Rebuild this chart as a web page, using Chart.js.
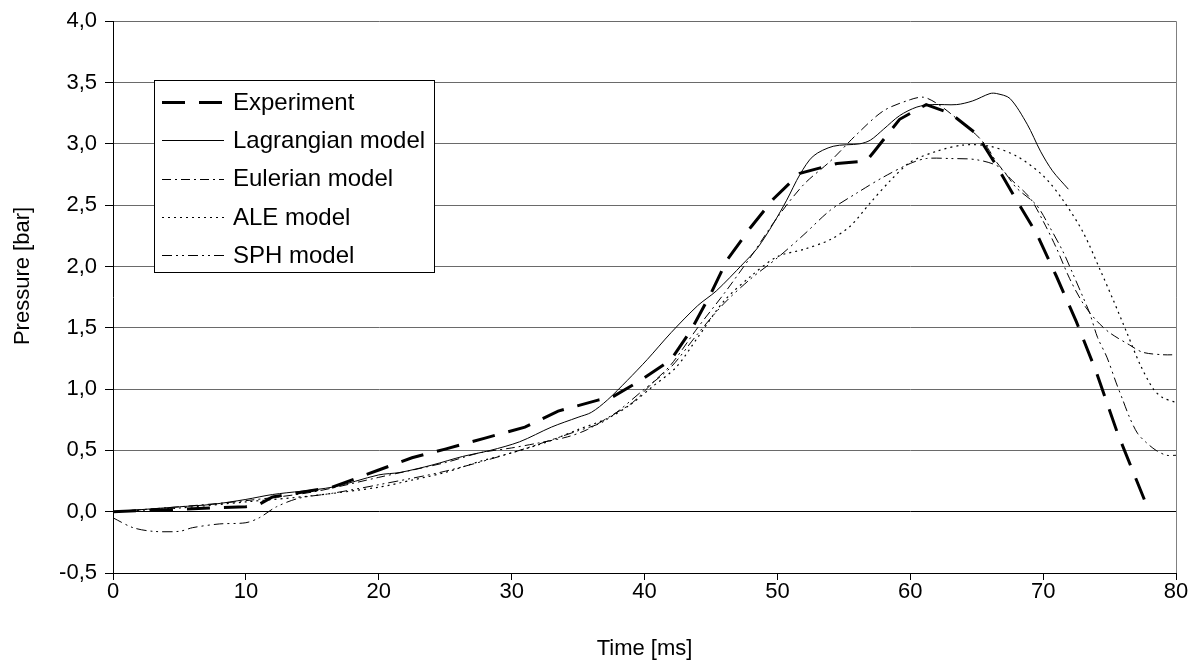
<!DOCTYPE html>
<html>
<head>
<meta charset="utf-8">
<script src="https://cdn.jsdelivr.net/npm/chart.js@4.4.0/dist/chart.umd.min.js"></script>
<style>
html,body{margin:0;padding:0;background:#fff;}
#wrap{width:1192px;height:662px;position:relative;}
</style>
</head>
<body>
<div id="wrap"><canvas id="c" width="1192" height="662"></canvas></div>
<script>
// Series names
const seriesNames = ['Experiment','Lagrangian model','Eulerian model','ALE model','SPH model'];

// Experiment
const expT = [0,5,10,11,12,16.5,20,22.5,25,28,31,33.5,36.5,37.5,39.7,42,43.5,45,46.2,48,49.7,51.7,54.5,56.7,57.3,59.2,61.2,63,65,66.5,68,69.5,71,72.5,74,75.6,77.8];
const expP = [0,0.02,0.04,0.06,0.12,0.2,0.34,0.44,0.51,0.6,0.69,0.82,0.91,0.93,1.07,1.24,1.48,1.78,2.05,2.32,2.55,2.76,2.84,2.86,2.94,3.2,3.32,3.25,3.08,2.82,2.54,2.27,1.92,1.55,1.14,0.64,0.05];

// Lagrangian model
const lagT = [0,5,7.5,10,12,16.5,20,21.6,24,26.3,28.4,30.6,33,35,36,37.2,38.7,40.2,42,44,45.4,47.4,48.5,49.7,50.7,51.7,52.7,54.2,56.2,57,58,59.2,60.5,61.7,63.5,64.7,66,66.5,67.5,68.8,69.8,70.7,71.9];
const lagP = [0,0.04,0.06,0.1,0.14,0.2,0.3,0.32,0.38,0.45,0.5,0.57,0.69,0.77,0.81,0.91,1.07,1.24,1.46,1.68,1.8,2.02,2.15,2.35,2.54,2.75,2.9,2.98,3.0,3.03,3.12,3.23,3.3,3.32,3.32,3.35,3.41,3.41,3.37,3.16,2.94,2.78,2.63];

// Eulerian model
const eulT = [0,5,10,15,20,25,27.6,30,32,34.2,35.7,37.6,39.1,40.6,42,44,46,48,50,52,54,56,58,60,61,62,63,64.2,65,65.8,66.5,67.5,69,70,71,72,73,74,75,76.5,77.5,79,80];
const eulP = [0,0.04,0.09,0.16,0.28,0.4,0.48,0.52,0.56,0.61,0.67,0.79,0.89,1.05,1.2,1.5,1.78,2.08,2.4,2.67,2.86,3.08,3.27,3.36,3.38,3.33,3.25,3.14,3.07,2.97,2.85,2.72,2.56,2.37,2.15,1.9,1.7,1.56,1.46,1.36,1.3,1.28,1.28];

// ALE model
const aleT = [0,5,10,15,20,22.6,25,27.6,30,32.7,35,37.2,38.9,40.6,42.4,44,46,48,50,52,54,55.5,57,58.5,60,62,64,66,68,70,71.5,73,74.3,75.3,76.3,77.3,78.3,79,80];
const aleP = [0,0.03,0.08,0.13,0.2,0.26,0.32,0.41,0.48,0.57,0.67,0.76,0.87,1.02,1.18,1.42,1.72,1.92,2.08,2.14,2.22,2.33,2.52,2.7,2.85,2.94,2.99,2.98,2.9,2.74,2.54,2.28,1.97,1.72,1.46,1.2,1.0,0.93,0.89];

// SPH model
const sphT = [0,1.5,3,5,6,8,10,11,12.3,14,16.5,20,25,30,35,37,40,42,44,46,48,50,52,54,56,58,60,61.2,63,65,66.7,68,69.5,70.5,71.5,72.2,73,73.5,74.1,74.8,75.5,76,76.5,77.1,77.7,78.5,79.3,80];
const sphP = [-0.05,-0.13,-0.16,-0.16,-0.13,-0.1,-0.09,-0.05,0.04,0.11,0.15,0.22,0.33,0.48,0.66,0.74,1.0,1.18,1.45,1.7,1.9,2.07,2.26,2.46,2.6,2.73,2.84,2.88,2.88,2.87,2.81,2.64,2.5,2.32,2.12,1.95,1.75,1.62,1.42,1.26,1.05,0.91,0.77,0.64,0.57,0.5,0.46,0.46];

// Axis ticks and titles
const xTicks = [0,10,20,30,40,50,60,70,80];
const yTicks = [-0.5,0,0.5,1,1.5,2,2.5,3,3.5,4];
const xTitle = 'Time [ms]';
const yTitle = 'Pressure [bar]';

const pts = (t,p) => t.map((v,i)=>({x:v,y:p[i]}));

const FONT = '"Liberation Sans", Arial, sans-serif';

const styles = [
  {w:3, dash:[23,14], tension:0},
  {w:1, dash:[], tension:0.3},
  {w:1, dash:[9,4,2,4], tension:0.3},
  {w:1.2, dash:[2,4], tension:0.3},
  {w:1, dash:[10,4,2,4,2,4], tension:0.3}
];

const rawData = [[expT,expP],[lagT,lagP],[eulT,eulP],[aleT,aleP],[sphT,sphP]];

const datasets = rawData.map((d,i)=>({
  label: seriesNames[i],
  data: pts(d[0],d[1]),
  borderColor:'#000',
  borderWidth: styles[i].w,
  borderDash: styles[i].dash,
  tension: styles[i].tension,
  pointRadius:0,
  fill:false
}));

const legendPlugin = {
  id:'boxLegend',
  afterDatasetsDraw(chart){
    const ctx = chart.ctx;
    const x0=154, y0=80, w=280, h=192;
    ctx.save();
    ctx.fillStyle='#fff';
    ctx.fillRect(x0,y0,w,h);
    ctx.strokeStyle='#000';
    ctx.lineWidth=1;
    ctx.setLineDash([]);
    ctx.strokeRect(x0+0.5,y0+0.5,w,h);
    chart.data.datasets.forEach((ds,i)=>{
      const y = 102 + i*38.3;
      ctx.beginPath();
      ctx.setLineDash(ds.borderDash||[]);
      ctx.lineWidth = ds.borderWidth;
      ctx.strokeStyle='#000';
      ctx.moveTo(162,Math.round(y)+0.5);
      ctx.lineTo(224,Math.round(y)+0.5);
      ctx.stroke();
      ctx.setLineDash([]);
      ctx.fillStyle='#000';
      ctx.font = '24px '+FONT;
      ctx.textBaseline='middle';
      ctx.textAlign='left';
      ctx.fillText(ds.label,233,y+1);
    });
    ctx.restore();
  }
};

const borderPlugin = {
  id:'rightBorder',
  beforeDatasetsDraw(chart){
    const a = chart.chartArea, ctx = chart.ctx;
    ctx.save();
    ctx.strokeStyle='#808080';
    ctx.lineWidth=1;
    ctx.beginPath();
    ctx.moveTo(Math.round(a.right)+0.5,a.top);
    ctx.lineTo(Math.round(a.right)+0.5,a.bottom);
    ctx.stroke();
    ctx.restore();
  }
};

const yTitlePlugin = {
  id:'yTitle',
  afterDraw(chart){
    const ctx = chart.ctx;
    ctx.save();
    ctx.translate(23,276);
    ctx.rotate(-Math.PI/2);
    ctx.fillStyle='#000';
    ctx.font='22px '+FONT;
    ctx.textAlign='center';
    ctx.textBaseline='middle';
    ctx.fillText(yTitle,0,0);
    ctx.restore();
  }
};

new Chart(document.getElementById('c'),{
  type:'line',
  data:{datasets},
  plugins:[borderPlugin,legendPlugin,yTitlePlugin],
  options:{
    responsive:false,
    animation:false,
    layout:{padding:{top:20,right:16,left:0,bottom:0}},
    plugins:{legend:{display:false},tooltip:{enabled:false}},
    scales:{
      x:{
        type:'linear', min:0, max:80,
        afterBuildTicks(s){ s.ticks = xTicks.map(v=>({value:v})); },
        afterFit(s){ s.height = 89; },
        ticks:{color:'#000',font:{family:FONT,size:22},padding:-1,maxRotation:0,
          callback:v=>String(v)},
        grid:{drawOnChartArea:false,tickLength:7,tickColor:'#000',color:'#000'},
        border:{color:'#000',width:1},
        title:{display:true,text:xTitle,color:'#000',font:{family:FONT,size:22},padding:{top:8,bottom:0}}
      },
      y:{
        type:'linear', min:-0.5, max:4,
        afterBuildTicks(s){ s.ticks = yTicks.map(v=>({value:v})); },
        afterFit(s){ s.width = 113; },
        ticks:{color:'#000',font:{family:FONT,size:22},padding:8,
          callback:v=>v.toFixed(1).replace('.',',')},
        grid:{tickLength:8,tickColor:'#000',
          color:c=> (c.tick && c.tick.value===0) ? '#000' : '#6a6a6a',
          lineWidth:1},
        border:{color:'#000',width:1},
        title:{display:false}
      }
    }
  }
});
</script>
</body>
</html>
